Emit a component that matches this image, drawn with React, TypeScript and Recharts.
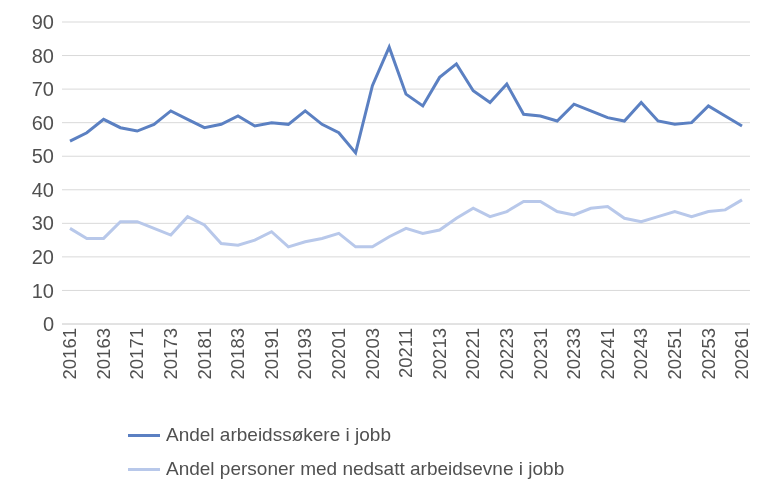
import { LineChart, Line, XAxis, YAxis, CartesianGrid, Legend } from 'recharts';

const quarters = [
  '20161', '20162', '20163', '20164', '20171', '20172', '20173', '20174',
  '20181', '20182', '20183', '20184', '20191', '20192', '20193', '20194',
  '20201', '20202', '20203', '20204', '20211', '20212', '20213', '20214',
  '20221', '20222', '20223', '20224', '20231', '20232', '20233', '20234',
  '20241', '20242', '20243', '20244', '20251', '20252', '20253', '20254', '20261',
];

const jobbsokere = [
  54.5, 57, 61, 58.5, 57.5, 59.5, 63.5, 61, 58.5, 59.5, 62, 59, 60, 59.5, 63.5, 59.5,
  57, 51, 71, 82.5, 68.5, 65, 73.5, 77.5, 69.5, 66, 71.5, 62.5, 62, 60.5, 65.5, 63.5,
  61.5, 60.5, 66, 60.5, 59.5, 60, 65, 62, 59,
];

const nedsattEvne = [
  28.5, 25.5, 25.5, 30.5, 30.5, 28.5, 26.5, 32, 29.5, 24, 23.5, 25, 27.5, 23, 24.5, 25.5,
  27, 23, 23, 26, 28.5, 27, 28, 31.5, 34.5, 32, 33.5, 36.5, 36.5, 33.5, 32.5, 34.5,
  35, 31.5, 30.5, 32, 33.5, 32, 33.5, 34, 37,
];

const yTicks = [0, 10, 20, 30, 40, 50, 60, 70, 80, 90];

const data = quarters.map((q, i) => ({ q, a: jobbsokere[i], b: nedsattEvne[i] }));

const DARK = '#5b80c2';
const LIGHT = '#b8c8ea';
const TEXT = '#505050';

function LegendBox({ payload }: any) {
  return (
    <div style={{ paddingLeft: 128, paddingTop: 14, fontSize: 19, color: TEXT }}>
      {(payload || []).map((p: any) => (
        <div key={p.value} style={{ display: 'flex', alignItems: 'center', height: 34 }}>
          <span style={{ display: 'inline-block', width: 32, height: 3, background: p.color, marginRight: 6 }} />
          {p.value}
        </div>
      ))}
    </div>
  );
}

export default function App() {
  return (
    <div style={{ position: 'fixed', left: 0, top: 0, fontFamily: 'Liberation Sans, Arial, sans-serif' }}>
      <LineChart width={768} height={488} data={data} margin={{ top: 22, right: 18, left: 0, bottom: 4 }}>
        <CartesianGrid vertical={false} stroke="#d9d9d9" />
        <XAxis
          dataKey="q"
          interval={1}
          angle={-90}
          textAnchor="end"
          height={80}
          dy={-4}
          dx={-7}
          tickLine={false}
          axisLine={{ stroke: '#d9d9d9' }}
          padding={{ left: 8, right: 8 }}
          tick={{ fill: TEXT, fontSize: 18.5 }}
        />
        <YAxis
          domain={[0, 90]}
          ticks={yTicks}
          width={62}
          tickLine={false}
          axisLine={false}
          tick={{ fill: TEXT, fontSize: 20 }}
        />
        <Legend verticalAlign="bottom" content={<LegendBox />} wrapperStyle={{ height: 80 }} />
        <Line name="Andel arbeidssøkere i jobb" dataKey="a" stroke={DARK} strokeWidth={3} dot={false} isAnimationActive={false} />
        <Line name="Andel personer med nedsatt arbeidsevne i jobb" dataKey="b" stroke={LIGHT} strokeWidth={3} dot={false} isAnimationActive={false} />
      </LineChart>
    </div>
  );
}
